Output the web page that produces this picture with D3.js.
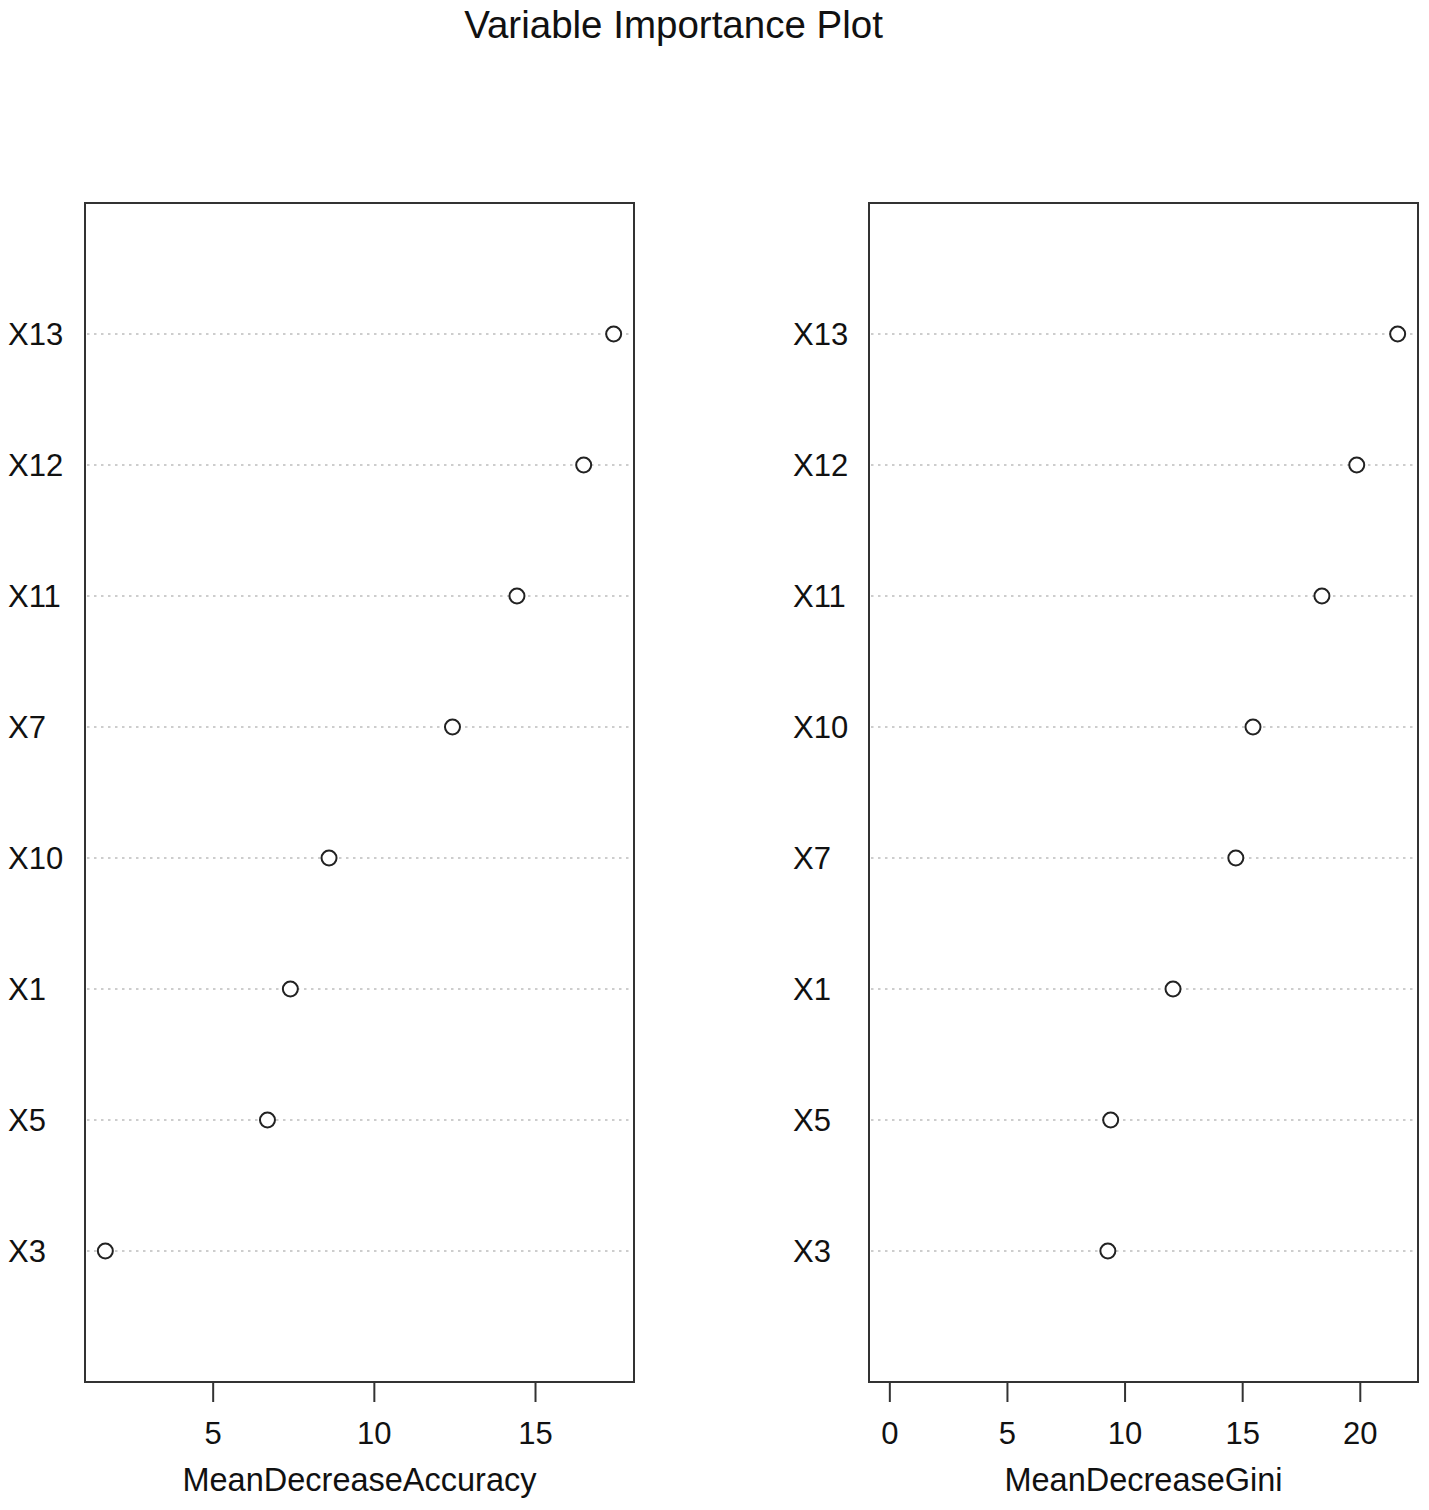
<!DOCTYPE html>
<html>
<head>
<meta charset="utf-8">
<script src="https://cdn.jsdelivr.net/npm/d3@7"></script>
<style>
    body { margin: 0; background: #fff; }
    text { font-family: "Liberation Sans", Arial, sans-serif; fill: #111; }
</style>
</head>
<body>
<div id="chart"></div>
<script>
// variables in plotting order (bottom to top), one list per panel
const accVars = ["X3", "X5", "X1", "X10", "X7", "X11", "X12", "X13"];
const accValues = [1.67, 6.70, 7.41, 8.61, 12.44, 14.44, 16.51, 17.44];

const giniVars = ["X3", "X5", "X1", "X7", "X10", "X11", "X12", "X13"];
const giniValues = [9.29, 9.41, 12.06, 14.73, 15.46, 18.39, 19.87, 21.61];

const accTicks = [5, 10, 15];
const giniTicks = [0, 5, 10, 15, 20];

const title = "Variable Importance Plot";

const width = 1429;
const height = 1510;
const plotTop = 203;
const plotBottom = 1382;

const svg = d3.select("#chart").append("svg")
    .attr("width", width)
    .attr("height", height);

svg.append("text")
    .attr("x", 673.5)
    .attr("y", 38)
    .attr("text-anchor", "middle")
    .style("font-size", "38.5px")
    .text(title);

// R-style 4% range extension
function extendRange(lo, hi) {
    const pad = (hi - lo) * 0.04;
    return [lo - pad, hi + pad];
}

function drawPanel(left, right, labelX, vars, values, ticks, xTitle, fromZero) {
    const lo = fromZero ? 0 : d3.min(values);
    const hi = d3.max(values);

    const x = d3.scaleLinear()
                .domain(extendRange(lo, hi))
                .range([left, right]);

    const y = d3.scaleLinear()
                .domain([0, vars.length + 1])
                .range([plotBottom, plotTop]);

    const g = svg.append("g");

    // dotted guide lines
    g.selectAll(".guide")
        .data(vars)
        .enter()
        .append("line")
        .attr("x1", left + 2)
        .attr("x2", right - 2)
        .attr("y1", (d, i) => y(i + 1))
        .attr("y2", (d, i) => y(i + 1))
        .attr("stroke", "#bdbdbd")
        .attr("stroke-width", 1.6)
        .attr("stroke-dasharray", "2.5,4.5");

    g.selectAll(".point")
        .data(values)
        .enter()
        .append("circle")
        .attr("cx", d => x(d))
        .attr("cy", (d, i) => y(i + 1))
        .attr("r", 7.5)
        .attr("fill", "#fff")
        .attr("stroke", "#222")
        .attr("stroke-width", 2);

    g.selectAll(".label")
        .data(vars)
        .enter()
        .append("text")
        .attr("x", labelX)
        .attr("y", (d, i) => y(i + 1) + 11)
        .style("font-size", "31px")
        .text(d => d);

    g.append("rect")
        .attr("x", left)
        .attr("y", plotTop)
        .attr("width", right - left)
        .attr("height", plotBottom - plotTop)
        .attr("fill", "none")
        .attr("stroke", "#333")
        .attr("stroke-width", 2);

    const axis = g.append("g")
        .attr("transform", `translate(0, ${plotBottom})`)
        .call(d3.axisBottom(x)
            .tickValues(ticks)
            .tickSize(20)
            .tickPadding(20)
            .tickFormat(d3.format("d")));

    axis.select(".domain").remove();
    axis.selectAll(".tick line")
        .attr("stroke", "#333")
        .attr("stroke-width", 2);
    axis.selectAll(".tick text")
        .attr("fill", "#111")
        .style("font-family", "\"Liberation Sans\", Arial, sans-serif")
        .style("font-size", "31px");

    g.append("text")
        .attr("x", (left + right) / 2)
        .attr("y", 1491)
        .attr("text-anchor", "middle")
        .style("font-size", "32.5px")
        .text(xTitle);
}

drawPanel(85, 634, 8, accVars, accValues, accTicks, "MeanDecreaseAccuracy", false);
drawPanel(869, 1418, 793, giniVars, giniValues, giniTicks, "MeanDecreaseGini", true);
</script>
</body>
</html>
